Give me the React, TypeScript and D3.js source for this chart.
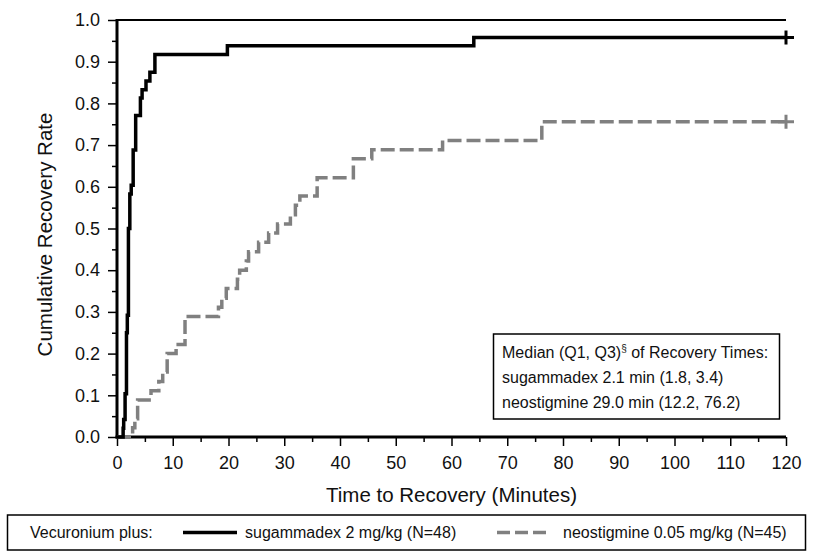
import { useRef, useEffect } from "react";
import * as d3 from "d3";

// Kaplan-Meier style step data (minutes, cumulative recovery rate)
const sugTimes = [0, 1.1, 1.2, 1.45, 1.7, 1.85, 2.05, 2.3, 2.55, 2.9, 3.35, 4.2, 4.5, 5.2, 5.9, 6.8, 19.8, 64.0, 120];
const sugRates = [0, 0.021, 0.042, 0.104, 0.25, 0.292, 0.5, 0.583, 0.604, 0.688, 0.771, 0.813, 0.833, 0.854, 0.875, 0.917, 0.938, 0.958, 0.958];

const neoTimes = [0, 2.8, 3.2, 3.7, 6.1, 7.5, 8.2, 9.0, 10.6, 12.2, 18.2, 18.8, 19.6, 21.6, 22.0, 23.2, 23.6, 25.4, 27.2, 28.8, 31.1, 32.0, 32.8, 35.9, 42.4, 45.7, 58.4, 76.2, 120];
const neoRates = [0, 0.022, 0.044, 0.089, 0.111, 0.133, 0.156, 0.2, 0.222, 0.289, 0.311, 0.333, 0.356, 0.378, 0.4, 0.422, 0.444, 0.467, 0.489, 0.511, 0.533, 0.556, 0.578, 0.622, 0.667, 0.689, 0.711, 0.756, 0.756];

const xTicks = [0, 10, 20, 30, 40, 50, 60, 70, 80, 90, 100, 110, 120];
const xMinor = [5, 15, 25, 35, 45, 55, 65, 75, 85, 95, 105, 115];
const yTicks = [0, 0.1, 0.2, 0.3, 0.4, 0.5, 0.6, 0.7, 0.8, 0.9, 1.0];
const yMinor = [0.05, 0.15, 0.25, 0.35, 0.45, 0.55, 0.65, 0.75, 0.85, 0.95];

const statsLines = [
  "sugammadex 2.1 min (1.8, 3.4)",
  "neostigmine 29.0 min (12.2, 76.2)",
];

const FONT = "'Liberation Sans', Arial, sans-serif";
const GRAY = "#808080";
const WIDTH = 820;
const HEIGHT = 560;
const PLOT = { left: 117, right: 786, top: 20, bottom: 437 };

export default function App() {
  const svgRef = useRef<SVGSVGElement>(null);

  useEffect(() => {
    if (!svgRef.current) return;
    const svg = d3.select(svgRef.current);
    svg.selectAll("*").remove();

    const x = d3.scaleLinear().domain([0, 120]).range([PLOT.left, PLOT.right]);
    const y = d3.scaleLinear().domain([0, 1]).range([PLOT.bottom, PLOT.top]);

    // frame top line
    svg.append("line")
      .attr("x1", x(0)).attr("x2", x(120))
      .attr("y1", y(1)).attr("y2", y(1))
      .attr("stroke", "#000").attr("stroke-width", 2);

    // Axes (major + minor ticks)
    const styleAxis = (g: d3.Selection<SVGGElement, unknown, null, undefined>) => {
      g.select(".domain").remove();
      g.selectAll("line").attr("stroke", "#000").attr("stroke-width", 1.5);
      g.selectAll("text")
        .attr("fill", "#111")
        .style("font-family", FONT)
        .style("font-size", "18px");
    };

    svg.append("g")
      .attr("transform", `translate(${PLOT.left},0)`)
      .call(d3.axisLeft(y).tickValues(yTicks).tickSize(9).tickPadding(8).tickFormat(d3.format(".1f")))
      .call(styleAxis);
    svg.append("g")
      .attr("transform", `translate(${PLOT.left},0)`)
      .call(d3.axisLeft(y).tickValues(yMinor).tickSize(5).tickFormat(() => ""))
      .call(styleAxis);

    svg.append("g")
      .attr("transform", `translate(0,${PLOT.bottom})`)
      .call(d3.axisBottom(x).tickValues(xTicks).tickSize(9).tickPadding(10).tickFormat(d3.format("d")))
      .call(styleAxis);
    svg.append("g")
      .attr("transform", `translate(0,${PLOT.bottom})`)
      .call(d3.axisBottom(x).tickValues(xMinor).tickSize(5).tickFormat(() => ""))
      .call(styleAxis);

    // thick axis lines
    svg.append("line")
      .attr("x1", PLOT.left).attr("x2", PLOT.left)
      .attr("y1", PLOT.top - 1).attr("y2", PLOT.bottom + 1.5)
      .attr("stroke", "#000").attr("stroke-width", 3);
    svg.append("line")
      .attr("x1", PLOT.left - 1.5).attr("x2", PLOT.right)
      .attr("y1", PLOT.bottom).attr("y2", PLOT.bottom)
      .attr("stroke", "#000").attr("stroke-width", 3);

    // step curves
    const line = d3.line<[number, number]>()
      .x((d) => x(d[0]))
      .y((d) => y(d[1]))
      .curve(d3.curveStepAfter);

    const neoPts = neoTimes.map((t, i) => [t, neoRates[i]] as [number, number]);
    const sugPts = sugTimes.map((t, i) => [t, sugRates[i]] as [number, number]);

    svg.append("path")
      .attr("d", line(neoPts))
      .attr("fill", "none")
      .attr("stroke", GRAY)
      .attr("stroke-width", 3.5)
      .attr("stroke-dasharray", "14,5");

    svg.append("path")
      .attr("d", line(sugPts))
      .attr("fill", "none")
      .attr("stroke", "#000")
      .attr("stroke-width", 3.5);

    // censor markers at end
    const plus = (pt: [number, number], color: string) => {
      const px = x(pt[0]);
      const py = y(pt[1]);
      svg.append("line").attr("x1", px - 8).attr("x2", px + 8).attr("y1", py).attr("y2", py)
        .attr("stroke", color).attr("stroke-width", 3);
      svg.append("line").attr("x1", px).attr("x2", px).attr("y1", py - 7).attr("y2", py + 7)
        .attr("stroke", color).attr("stroke-width", 3);
    };
    plus(sugPts[sugPts.length - 1], "#000");
    plus(neoPts[neoPts.length - 1], GRAY);

    // axis titles
    svg.append("text")
      .attr("x", (PLOT.left + PLOT.right) / 2)
      .attr("y", 502)
      .attr("text-anchor", "middle")
      .attr("fill", "#111")
      .style("font-family", FONT)
      .style("font-size", "20.5px")
      .text("Time to Recovery (Minutes)");

    svg.append("text")
      .attr("transform", `translate(52,${(PLOT.top + PLOT.bottom) / 2 + 6}) rotate(-90)`)
      .attr("text-anchor", "middle")
      .attr("fill", "#111")
      .style("font-family", FONT)
      .style("font-size", "20.5px")
      .text("Cumulative Recovery Rate");

    // stats box
    svg.append("rect")
      .attr("x", 493.5).attr("y", 334).attr("width", 286).attr("height", 85)
      .attr("fill", "#fff").attr("stroke", "#000").attr("stroke-width", 1.5);
    const t1 = svg.append("text")
      .attr("x", 502).attr("y", 358)
      .attr("fill", "#111")
      .style("font-family", FONT)
      .style("font-size", "16px");
    t1.append("tspan").text("Median (Q1, Q3)");
    t1.append("tspan").attr("dy", -6).style("font-size", "10px").text("§");
    t1.append("tspan").attr("dy", 6).text(" of Recovery Times:");
    statsLines.forEach((s, i) => {
      svg.append("text")
        .attr("x", 502).attr("y", 383 + i * 24.5)
        .attr("fill", "#111")
        .style("font-family", FONT)
        .style("font-size", "16px")
        .text(s);
    });

    // legend box
    svg.append("rect")
      .attr("x", 7.5).attr("y", 515).attr("width", 798).attr("height", 35)
      .attr("fill", "#fff").attr("stroke", "#000").attr("stroke-width", 1.5);
    const legY = 538;
    const legText = (tx: number, s: string) =>
      svg.append("text")
        .attr("x", tx).attr("y", legY)
        .attr("fill", "#111")
        .style("font-family", FONT)
        .style("font-size", "16px")
        .text(s);
    legText(30, "Vecuronium plus:");
    svg.append("line").attr("x1", 183).attr("x2", 237).attr("y1", 532.5).attr("y2", 532.5)
      .attr("stroke", "#000").attr("stroke-width", 3.5);
    legText(245, "sugammadex 2 mg/kg (N=48)");
    svg.append("line").attr("x1", 497).attr("x2", 547).attr("y1", 532.5).attr("y2", 532.5)
      .attr("stroke", GRAY).attr("stroke-width", 3.5).attr("stroke-dasharray", "13,5");
    legText(563, "neostigmine 0.05 mg/kg (N=45)");
  }, []);

  return (
    <svg
      ref={svgRef}
      width={WIDTH}
      height={HEIGHT}
      style={{ position: "absolute", left: 0, top: 0, background: "#fff" }}
    />
  );
}
